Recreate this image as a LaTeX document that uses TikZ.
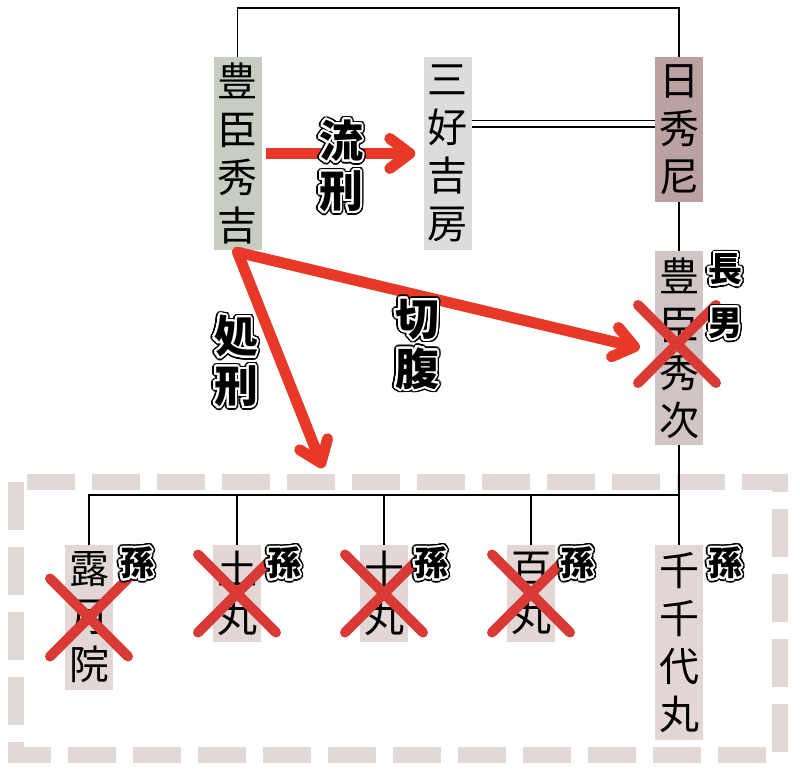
\documentclass[tikz,border=0pt]{standalone}
\usepackage{fontspec}
\usepackage{contour}
\usetikzlibrary{arrows.meta}
\newfontfamily\jp{Noto Sans CJK JP}
\definecolor{cHideyoshi}{HTML}{C7CEC1}
\definecolor{cMiyoshi}{HTML}{DCDCDC}
\definecolor{cNisshu}{HTML}{BBA1A2}
\definecolor{cHidetsugu}{HTML}{D0C4C4}
\definecolor{cGrand}{HTML}{E2D7D5}
\definecolor{cFrame}{HTML}{E2D8D6}
\definecolor{cArrow}{HTML}{E83828}
\definecolor{cCross}{HTML}{D93A36}
\contournumber{32}
\newcommand\olab[1]{\rlap{\contourlength{3.6pt}\contour{black}{#1}}{\contourlength{2.0pt}\contour{white}{#1}}}
\newcommand\drawX[1]{%
  \draw[cross] ([shift={(-39,-39)}]#1) -- ([shift={(39,39)}]#1);
  \draw[cross] ([shift={(-39,39)}]#1) -- ([shift={(39,-39)}]#1);}
\tikzset{
  pbox/.style={fill=#1, minimum width=48pt, inner sep=0pt, align=center,
    font=\jp\fontsize{40}{48}\selectfont, text=black},
  conn/.style={line width=1.5pt, draw=black},
  redarrow/.style={draw=cArrow, line width=11pt,
    -{Straight Barb[length=20pt,width=30pt,line cap=round,line join=round]}},
  cross/.style={draw=cCross, line width=10pt, line cap=round},
  dashframe/.style={draw=cFrame, line width=16pt, dash pattern=on 48pt off 17pt},
  biglab/.style={inner sep=0pt, align=center, font=\jp\bfseries\fontsize{44}{50}\selectfont},
  smalllab/.style={inner sep=0pt, align=center, font=\jp\bfseries\fontsize{34}{54}\selectfont},
}
\begin{document}
\begin{tikzpicture}[x=1pt,y=-1pt]
\useasboundingbox[fill=white] (0,0) rectangle (800,775);
% frame
\draw[dashframe] (16,482) rectangle (780,755);
% helper coordinates
\coordinate (topline) at (0,8);
\coordinate (dl) at (0,124);
\coordinate (bar) at (0,495);
\coordinate (exectip) at (323,468);
% boxes
\node[pbox=cHideyoshi, minimum height=193pt] (hideyoshi) at (237.5,153.5) {豊\\臣\\秀\\吉};
\node[pbox=cMiyoshi, minimum height=193pt] (miyoshi) at (447.5,153.5) {三\\好\\吉\\房};
\node[pbox=cNisshu, minimum height=145pt] (nisshu) at (679,129.5) {日\\秀\\尼};
\node[pbox=cHidetsugu, minimum height=194pt] (hidetsugu) at (679,348) {豊\\臣\\秀\\次};
\node[pbox=cGrand, minimum height=145pt] (rogetsu) at (89,617.5) {露\\月\\院};
\node[pbox=cGrand, minimum height=97pt] (tsuchi) at (237,593.5) {土\\丸};
\node[pbox=cGrand, minimum height=97pt] (juu) at (384,593.5) {十\\丸};
\node[pbox=cGrand, minimum height=97pt] (hyaku) at (531,593.5) {百\\丸};
\node[pbox=cGrand, minimum height=195pt] (senchiyo) at (679,642.5) {千\\千\\代\\丸};
% connectors
\draw[conn] (hideyoshi.north) -- (hideyoshi.north |- topline) -| (nisshu.north);
\draw[line width=1.5pt, double=white, double distance=5pt] (miyoshi.east |- dl) -- (nisshu.west |- dl);
\draw[conn] (nisshu.south) -- (hidetsugu.north);
\draw[conn] (hidetsugu.south) -- (hidetsugu.south |- bar) coordinate (barR);
\draw[conn] (rogetsu.north) |- (barR);
\draw[conn] (tsuchi.north) -- (tsuchi.north |- bar);
\draw[conn] (juu.north) -- (juu.north |- bar);
\draw[conn] (hyaku.north) -- (hyaku.north |- bar);
\draw[conn] (senchiyo.north) -- (barR);
% crosses
\coordinate (xHt) at ([shift={(-2,-4)}]hidetsugu.center);
\drawX{xHt}
\drawX{rogetsu.center}
\drawX{tsuchi.center}
\drawX{juu.center}
\drawX{hyaku.center}
% arrows
\draw[redarrow] ([xshift=4pt]hideyoshi.east) -- ([xshift=-8pt]miyoshi.west);
\draw[redarrow, line cap=round] ([yshift=-2pt]hideyoshi.south) -- ([xshift=-15pt]hidetsugu.west);
\draw[redarrow, line cap=round] ([yshift=-2pt]hideyoshi.south) -- (exectip);
% labels
\node[biglab] (lruzai) at (341,168) {\olab{流}\\\olab{刑}};
\node[biglab] (lseppuku) at (417,346) {\olab{切}\\\olab{腹}};
\node[biglab] (lshokei) at (236,363) {\olab{処}\\\olab{刑}};
\node[smalllab] (lchonan) at (725,298) {\olab{長}\\\olab{男}};
\node[smalllab] (lg1) at (137,565) {\olab{孫}};
\node[smalllab] (lg2) at (284,565) {\olab{孫}};
\node[smalllab] (lg3) at (431,565) {\olab{孫}};
\node[smalllab] (lg4) at (577,565) {\olab{孫}};
\node[smalllab] (lg5) at (725,565) {\olab{孫}};
\end{tikzpicture}
\end{document}
